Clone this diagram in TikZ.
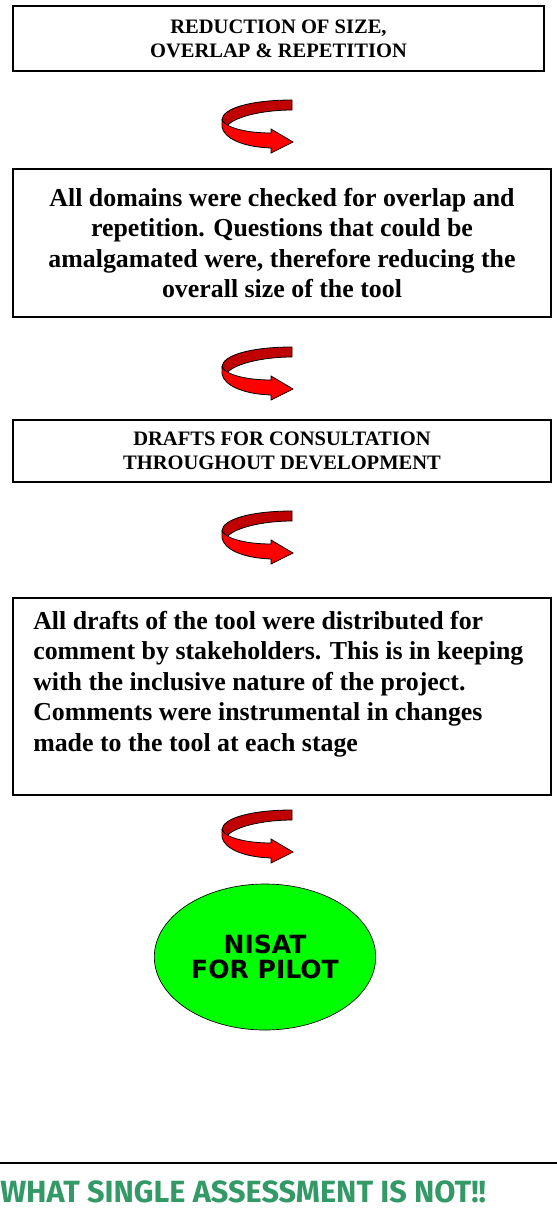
\documentclass[tikz,border=0pt]{standalone}
\usepackage{fontspec}
\setmainfont{Liberation Serif}
\newfontfamily\nisatfont{DejaVu Sans}
\newfontfamily\notfont{Fira Sans}
\usetikzlibrary{shapes.geometric}
\definecolor{ribbonback}{HTML}{C00000}
\definecolor{ribbonfront}{HTML}{FF0000}
\definecolor{pilotgreen}{HTML}{00FF00}
\definecolor{notgreen}{HTML}{339966}
\tikzset{
  stagebox/.style={draw, line width=1pt, align=center, inner sep=0pt},
  bigtext/.style={font=\bfseries\fontsize{19.4}{22.8}\selectfont},
  smalltext/.style={font=\bfseries\fontsize{15.4}{18}\selectfont},
  turnarrow/.pic={
    \draw[fill=ribbonback, line width=0.6pt] (34,-26) .. controls (-6,-26) and (-36,-18) .. (-36,-6)
      -- (-31,0) .. controls (-24,-9) and (4,-16) .. (34,-16) -- cycle;
    \draw[fill=ribbonfront, line width=0.6pt] (-36,-6) .. controls (-32,2) and (-11,7) .. (13,7)
      -- (13,3) -- (35,16) -- (13,27) -- (13,22) .. controls (-16,21) and (-34,12) .. (-36,1) -- cycle;
  }
}
\begin{document}
\begin{tikzpicture}[x=0.75pt,y=-0.75pt]
  \useasboundingbox (0,0) rectangle (557,1225);
  % stages
  \node[stagebox, smalltext, minimum width=398.25pt, minimum height=48.75pt] (size) at (278.5,38.5)
    {REDUCTION OF SIZE,\\OVERLAP \& REPETITION};
  \node[stagebox, bigtext, minimum width=403.5pt, minimum height=111pt] (domains) at (282,243)
    {All domains were checked for overlap and\\repetition. Questions that could be\\amalgamated were, therefore reducing the\\overall size of the tool};
  \node[stagebox, smalltext, minimum width=403.5pt, minimum height=46.5pt] (consult) at (282,451)
    {DRAFTS FOR CONSULTATION\\THROUGHOUT DEVELOPMENT};
  \node[stagebox, minimum width=403.5pt, minimum height=147.75pt] (drafts) at (282,696.5) {};
  \node[bigtext, align=left, inner sep=0pt, anchor=north west] (draftstext) at (33,611)
    {All drafts of the tool were distributed for\\comment by stakeholders. This is in keeping\\with the inclusive nature of the project.\\Comments were instrumental in changes\\made to the tool at each stage};
  \node[ellipse, draw, fill=pilotgreen, line width=0.5pt, minimum width=165pt, minimum height=109.5pt,
    align=center, font=\nisatfont\bfseries\fontsize{18.8}{19}\selectfont] (pilot) at (265,957)
    {NISAT\\FOR PILOT};
  % turning arrows
  \pic at (258,126) {turnarrow};
  \pic at (258,373) {turnarrow};
  \pic at (258,537) {turnarrow};
  \pic at (258,836) {turnarrow};
  % footer
  \coordinate (ruleL) at (0,1163);
  \coordinate (ruleR) at (557,1163);
  \draw[line width=1.5pt] (ruleL) -- (ruleR);
  \node[anchor=west, inner sep=0pt, text=notgreen, font=\notfont\bfseries\fontsize{23}{26}\selectfont] (notlabel) at (0,1192)
    {WHAT SINGLE ASSESSMENT IS NOT!!};
\end{tikzpicture}
\end{document}
